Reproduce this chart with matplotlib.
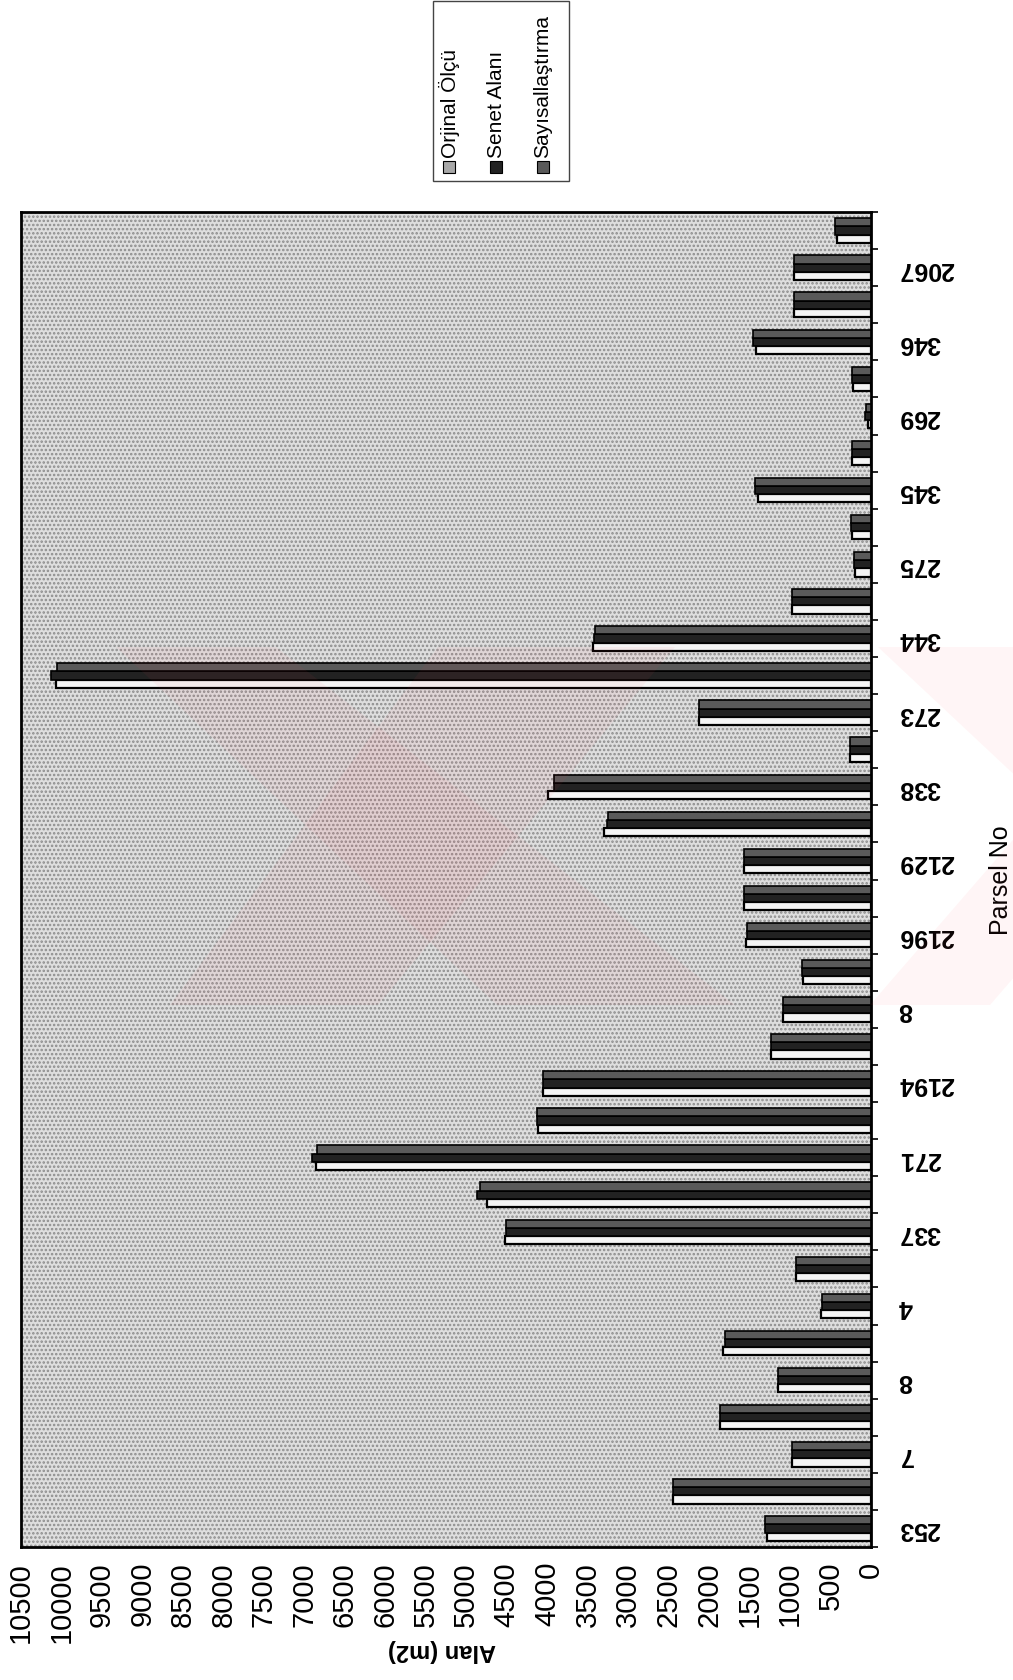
import matplotlib
matplotlib.use('Agg')
import matplotlib.pyplot as plt
import numpy as np
from matplotlib.patches import Rectangle, Polygon

plt.rcParams['font.family'] = ['Liberation Sans', 'DejaVu Sans']
plt.rcParams['hatch.linewidth'] = 1.2

# Parcel numbers written on the axis (only every second group gets a label)
parsel_labels = ['253', '7', '8', '4', '337', '271', '2194', '8', '2196',
                 '2129', '338', '273', '344', '275', '345', '269', '346', '2067']

# Areas (m2), one value per bar group, from the bottom group to the top group
orjinal = [1290, 2440, 975, 1860, 1150, 1830, 620, 930, 4520, 4740,
           6855, 4110, 4050, 1230, 1090, 840, 1540, 1565, 1570, 3300,
           3990, 255, 2120, 10070, 3440, 980, 200, 240, 1400, 230,
           40, 220, 1420, 950, 950, 420]
senet = [1310, 2450, 975, 1860, 1150, 1800, 600, 930, 4510, 4870,
         6905, 4125, 4050, 1230, 1090, 850, 1535, 1565, 1565, 3260,
         3915, 260, 2130, 10130, 3420, 980, 210, 245, 1430, 235,
         80, 235, 1457, 950, 950, 440]
sayisal = [1310, 2450, 975, 1860, 1150, 1800, 600, 930, 4510, 4830,
           6840, 4125, 4050, 1230, 1090, 850, 1535, 1565, 1565, 3250,
           3915, 260, 2130, 10060, 3410, 975, 210, 245, 1430, 235,
           60, 235, 1457, 950, 950, 440]

series_names = ['Orjinal Ölçü', 'Senet Alanı', 'Sayısallaştırma']
value_ticks = list(range(0, 10501, 500))

W, H = 1013, 1681
fig = plt.figure(figsize=(W / 100, H / 100), dpi=100)
fig.patch.set_facecolor('white')

def px(x, y):
    # pixel position (from top-left) -> figure fraction
    return (x / W, 1 - y / H)

ax = fig.add_axes([21 / W, 1 - 1548 / H, 850 / W, 1335 / H])
ax.set_facecolor('#dedede')
# dotted halftone look of the scanned plot area
ax.add_patch(Rectangle((0, 0), 1, 1, transform=ax.transAxes, facecolor='none',
                       edgecolor='#8c8c8c', hatch='....', linewidth=0, zorder=0))

n = len(orjinal)
pos = np.arange(n)
w = 0.22
styles = [
    dict(facecolor='#f4f4f4', edgecolor='black', linewidth=1.6),
    dict(facecolor='#222222', edgecolor='black', linewidth=1.2),
    dict(facecolor='#5a5a5a', edgecolor='black', linewidth=1.2),
]
for k, vals in enumerate([orjinal, senet, sayisal]):
    ax.barh(pos + (k - 1) * w, vals, height=w, zorder=3, **styles[k])

ax.set_xlim(10500, 0)
ax.set_ylim(-0.5, n - 0.5)

# value axis (bottom)
ax.set_xticks(value_ticks)
ax.set_xticklabels([str(v) for v in value_ticks], rotation=90, fontsize=21,
                   va='top', ha='center')
ax.tick_params(axis='x', length=0, pad=10)

# category axis on the right: tick marks between groups, labels on every 2nd group
ax.yaxis.tick_right()
ax.set_yticks(np.arange(-0.5, n, 1.0))
ax.set_yticklabels([])
ax.set_yticks(np.arange(0, n, 2), minor=True)
ax.set_yticklabels(parsel_labels, minor=True, rotation=180, fontsize=18,
                   fontweight='bold', va='center')
ax.tick_params(axis='y', which='major', direction='out', length=5, width=1.2,
               right=True, left=False)
ax.tick_params(axis='y', which='minor', length=0, pad=20, right=True, left=False)

for s in ax.spines.values():
    s.set_linewidth(2.0)

fig.text(*px(1001, 880), 'Parsel No', rotation=90, ha='center', va='center',
         fontsize=18)
fig.text(*px(442, 1651), 'Alan (m2)', rotation=180, ha='center', va='center',
         fontsize=17, fontweight='bold')

# legend, drawn by hand because the whole chart is turned on its side
x0, y0 = px(433, 182)
x1, y1 = px(569, 2)
fig.patches.append(Rectangle((x0, y0), x1 - x0, y1 - y0, transform=fig.transFigure,
                             facecolor='white', edgecolor='#444444', linewidth=1.0))
leg_x = [449, 496, 543]
for k, name in enumerate(series_names):
    sx, sy = px(leg_x[k] - 6, 174)
    fig.patches.append(Rectangle((sx, sy), 12 / W, 12 / H, transform=fig.transFigure,
                                 facecolor=styles[k]['facecolor'] if k else '#a8a8a8',
                                 edgecolor='black', linewidth=0.8))
    fig.text(*px(leg_x[k], 158), name, rotation=90, ha='center', va='bottom',
             fontsize=15)

# faint pink watermark across the middle
marks = [
    [(116, 648), (276, 648), (735, 1006), (497, 1006)],
    [(438, 648), (675, 648), (378, 1006), (170, 1006)],
    [(878, 648), (1040, 648), (1500, 1006), (1260, 1006)],
    [(1180, 648), (1300, 648), (990, 1006), (870, 1006)],
]
for poly in marks:
    fig.patches.append(Polygon([px(x, y) for x, y in poly], closed=True,
                               transform=fig.transFigure, facecolor='#ff4050',
                               alpha=0.05, edgecolor='none', zorder=10))

fig.savefig('out.png', dpi=100)
